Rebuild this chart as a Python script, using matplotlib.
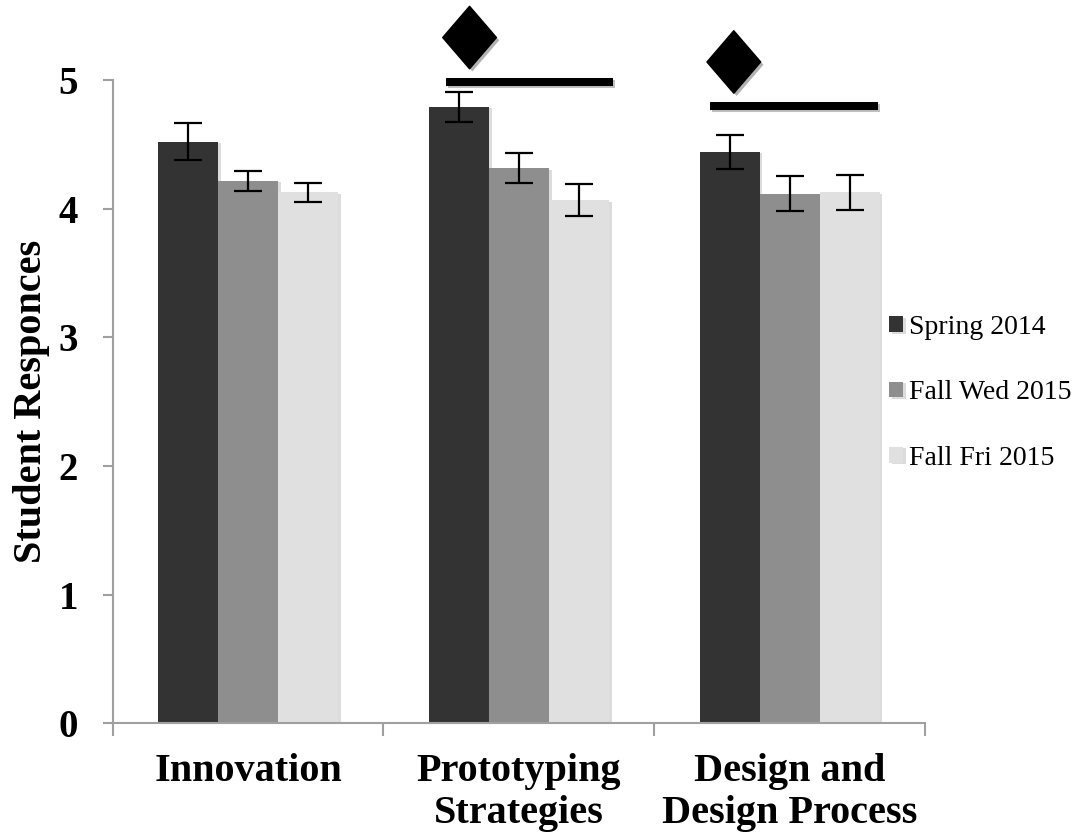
import numpy as np
import matplotlib
matplotlib.use('Agg')
import matplotlib.pyplot as plt
import matplotlib.patheffects as pe
from matplotlib.path import Path

# survey means per topic, one list per class section
categories = ['Innovation', 'Prototyping\nStrategies', 'Design and\nDesign Process']
series_names = ['Spring 2014', 'Fall Wed 2015', 'Fall Fri 2015']
spring_2014 = [4.52, 4.79, 4.44]
fall_wed_2015 = [4.215, 4.315, 4.117]
fall_fri_2015 = [4.127, 4.065, 4.127]
spring_err = [0.143, 0.113, 0.13]
fall_wed_err = [0.08, 0.119, 0.134]
fall_fri_err = [0.073, 0.125, 0.137]

# significance markers: (category index, line start, line end, line height, diamond x, diamond y)
sig_cat = [1, 2]
sig_start = [-0.270, -0.295]
sig_end = [0.349, 0.326]
sig_line_y = [4.987, 4.80]
sig_diamond_x = [-0.182, -0.206]
sig_diamond_y = [5.33, 5.14]

colors = ['#333333', '#8e8e8e', '#e0e0e0']
font = 'Liberation Serif'
plt.rcParams['font.family'] = font

fig = plt.figure(figsize=(10.86, 8.36), dpi=100)
ax = fig.add_axes([0.1038, 0.1346, 0.7479, 0.7697])

x = np.arange(len(categories))
width = 0.2216
values = [spring_2014, fall_wed_2015, fall_fri_2015]
errs = [spring_err, fall_wed_err, fall_fri_err]
shadow = [pe.SimplePatchShadow(offset=(2, -1), shadow_rgbFace='#bbbbbb', alpha=0.5), pe.Normal()]
for i, (vals, err) in enumerate(zip(values, errs)):
    pos = x + (i - 1) * width
    bars = ax.bar(pos, vals, width, color=colors[i], label=series_names[i], zorder=2)
    for b in bars:
        b.set_path_effects(shadow)
    ax.errorbar(pos, vals, yerr=err, fmt='none', ecolor='black', elinewidth=1.6,
                capsize=10, capthick=1.6, zorder=3)

# diamond marker, a bit taller than wide
diamond = Path([(0, 1), (0.86, 0), (0, -1), (-0.86, 0), (0, 1)],
               [Path.MOVETO, Path.LINETO, Path.LINETO, Path.LINETO, Path.CLOSEPOLY])
for c, s, e, ly, dx, dy in zip(sig_cat, sig_start, sig_end, sig_line_y, sig_diamond_x, sig_diamond_y):
    ax.plot([c + s, c + e], [ly, ly], color='black', lw=5.8, solid_capstyle='butt',
            clip_on=False, zorder=4,
            path_effects=[pe.SimpleLineShadow(offset=(1.5, -1.5), alpha=0.25), pe.Normal()])
    ax.plot([c + dx], [dy], marker=diamond, markersize=45, color='black', linestyle='none',
            clip_on=False, zorder=4,
            path_effects=[pe.SimplePatchShadow(offset=(2, -2), alpha=0.3), pe.Normal()])

ax.set_xlim(-0.5, len(categories) - 0.5)
ax.set_ylim(0, 5)
ax.set_yticks(range(6))
ax.set_yticklabels([str(v) for v in range(6)], fontsize=28, fontweight='bold')

# boundary ticks between groups, labels at group centres
ax.set_xticks(np.arange(-0.5, len(categories)), minor=False)
ax.set_xticklabels([])
ax.set_xticks(x, minor=True)
ax.set_xticklabels(categories, minor=True, fontsize=29, fontweight='bold', linespacing=1.2)
ax.tick_params(axis='x', which='major', length=9, width=1.5, color='#a0a0a0', direction='out')
ax.tick_params(axis='x', which='minor', length=0, pad=21)
ax.tick_params(axis='y', length=7, width=1.5, color='#a0a0a0', pad=18)

for side in ['top', 'right']:
    ax.spines[side].set_visible(False)
for side in ['left', 'bottom']:
    ax.spines[side].set_color('#a0a0a0')
    ax.spines[side].set_linewidth(1.5)

ax.set_ylabel('Student Responces', fontsize=29, fontweight='bold')
ax.yaxis.set_label_coords(-0.077, 0.5)

leg = ax.legend(loc='center left', bbox_to_anchor=(0.819, 0.53), bbox_transform=fig.transFigure,
                frameon=False, fontsize=20, handlelength=0.5, handleheight=0.5,
                handletextpad=0.2, labelspacing=1.45, borderpad=0, borderaxespad=0)

fig.savefig('out.png', dpi=100)
